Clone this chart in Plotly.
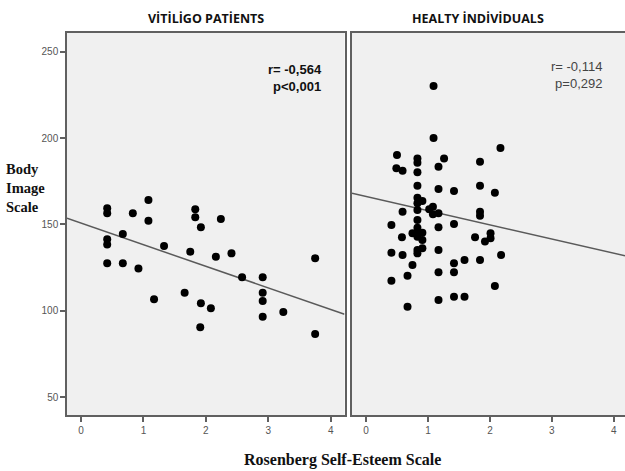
import numpy as np
import plotly.graph_objects as go

# Vitiligo patients (Rosenberg score, Body image score)
vit_x = [0.42, 0.42, 1.08, 0.83, 1.08, 1.83, 1.83, 2.24, 1.92, 0.67, 0.42, 0.42, 1.33, 1.75,
         2.16, 2.41, 0.42, 0.67, 0.92, 3.75, 2.58, 2.91, 2.91, 2.91, 1.66, 1.17, 1.92, 2.08,
         3.24, 2.91, 1.91, 3.75]
vit_y = [159.3, 156.4, 164.1, 156.4, 152.1, 158.7, 154.1, 153.1, 148.3, 144.4, 141.3, 138.4,
         137.5, 134.2, 131.3, 133.2, 127.4, 127.4, 124.5, 130.3, 119.3, 119.3, 110.4, 105.6,
         110.4, 106.6, 104.3, 101.4, 99.2, 96.5, 90.4, 86.5]

# Healthy individuals
hea_x = [1.09, 1.09, 2.17, 0.50, 0.83, 0.83, 1.26, 1.84, 0.49, 0.59, 0.83, 1.17, 0.83, 1.17,
         1.42, 1.84, 2.08, 0.83, 0.91, 0.83, 1.08, 1.02, 0.83, 0.59, 1.17, 1.08, 1.84, 1.84,
         0.83, 0.41, 1.42, 1.17, 0.83, 0.75, 0.83, 0.91, 0.83, 0.58, 0.91, 1.76, 2.01, 2.01,
         1.92, 0.91, 0.83, 0.83, 0.41, 0.59, 1.17, 2.18, 0.75, 1.59, 1.42, 1.84, 0.67, 1.17,
         1.42, 0.41, 2.08, 1.17, 1.42, 1.59, 0.67]
hea_y = [230.1, 200.0, 194.2, 190.2, 188.2, 185.7, 188.2, 186.3, 182.5, 181.1, 180.1, 183.4,
         172.4, 170.5, 169.3, 172.4, 168.3, 165.4, 163.5, 162.2, 160.2, 158.7, 158.3, 157.3,
         156.4, 155.8, 157.3, 155.0, 152.5, 149.6, 150.2, 148.3, 148.1, 144.8, 144.8, 145.2,
         142.8, 142.5, 140.9, 142.5, 144.8, 141.9, 140.0, 136.1, 135.1, 133.2, 133.6, 132.2,
         135.1, 132.2, 126.4, 129.3, 127.4, 129.3, 120.3, 122.2, 122.2, 117.4, 114.3, 106.2,
         108.1, 108.1, 102.3]

# Fit lines (intercept, slope)
vit_fit = [150.7, -12.5]
hea_fit = [166.1, -8.2]

x_ticks = [0, 1, 2, 3, 4]
y_ticks = [50, 100, 150, 200, 250]
x_range_left = [-0.224, 4.22]
x_range_right = [-0.226, 4.18]
y_range = [39.6, 260.8]

titles = ["VİTİLİGO PATİENTS", "HEALTY İNDİVİDUALS"]

fig = go.Figure()


def fit_line(fit, xr):
    xs = np.array(xr)
    return xs, fit[0] + fit[1] * xs


lx, ly = fit_line(vit_fit, x_range_left)
rx, ry = fit_line(hea_fit, x_range_right)

fig.add_trace(go.Scatter(x=lx, y=ly, mode="lines", line=dict(color="#5a5a5a", width=1.5),
                         xaxis="x", yaxis="y", showlegend=False, hoverinfo="skip"))
fig.add_trace(go.Scatter(x=vit_x, y=vit_y, mode="markers",
                         marker=dict(color="black", size=8), xaxis="x", yaxis="y", showlegend=False))
fig.add_trace(go.Scatter(x=rx, y=ry, mode="lines", line=dict(color="#5a5a5a", width=1.5),
                         xaxis="x2", yaxis="y2", showlegend=False, hoverinfo="skip"))
fig.add_trace(go.Scatter(x=hea_x, y=hea_y, mode="markers",
                         marker=dict(color="black", size=8), xaxis="x2", yaxis="y2", showlegend=False))

tickfont = dict(family="Arial, Liberation Sans", size=10, color="#555555")
axis_common = dict(showgrid=False, zeroline=False, ticks="outside", ticklen=5, tickwidth=1.5,
                   tickcolor="#606060", linecolor="#606060", linewidth=1.5, showline=True,
                   tickfont=tickfont)

fig.update_layout(
    width=625, height=471,
    margin=dict(l=0, r=0, t=0, b=0),
    paper_bgcolor="white",
    plot_bgcolor="#f0f0f0",
    xaxis=dict(domain=[67 / 625, 344.5 / 625], range=x_range_left, tickvals=x_ticks,
               mirror=True, anchor="y", **axis_common),
    yaxis=dict(domain=[1 - 415 / 471, 1 - 33 / 471], range=y_range, tickvals=y_ticks,
               mirror=True, anchor="x", **axis_common),
    xaxis2=dict(domain=[352 / 625, 1.0], range=x_range_right, tickvals=x_ticks,
                mirror=True, anchor="y2", **axis_common),
    yaxis2=dict(domain=[1 - 415 / 471, 1 - 33 / 471], range=y_range, tickvals=y_ticks,
                showticklabels=False, ticks="", anchor="x2", showgrid=False, zeroline=False,
                showline=True, linecolor="#606060", linewidth=1.5),
)

ann = []
ann.append(dict(text="<b>" + titles[0] + "</b>", x=206 / 625, y=1 - 19 / 471, xref="paper", yref="paper",
                xanchor="center", yanchor="middle", showarrow=False,
                font=dict(family="Open Sans", size=12.5, color="#111111")))
ann.append(dict(text="<b>" + titles[1] + "</b>", x=478 / 625, y=1 - 19 / 471, xref="paper", yref="paper",
                xanchor="center", yanchor="middle", showarrow=False,
                font=dict(family="Open Sans", size=12.5, color="#111111")))
ann.append(dict(text="<b>r= -0,564</b><br><b>p<0,001</b>", x=324 / 625, y=1 - 78 / 471,
                xref="paper", yref="paper", xanchor="right", yanchor="middle", align="right",
                showarrow=False, font=dict(family="Arial, Liberation Sans", size=13, color="#111111")))
ann.append(dict(text="r= -0,114<br>p=0,292", x=604 / 625, y=1 - 75 / 471,
                xref="paper", yref="paper", xanchor="right", yanchor="middle", align="right",
                showarrow=False, font=dict(family="Arial, Liberation Sans", size=13, color="#444444")))
ann.append(dict(text="<b>Body<br>Image<br>Scale</b>", x=4 / 625, y=1 - 188 / 471,
                xref="paper", yref="paper", xanchor="left", yanchor="middle", align="left",
                showarrow=False,
                font=dict(family="Liberation Serif, Times New Roman", size=14.5, color="#111111")))
ann.append(dict(text="<b>Rosenberg Self-Esteem Scale</b>", x=342 / 625, y=1 - 460 / 471,
                xref="paper", yref="paper", xanchor="center", yanchor="middle", showarrow=False,
                borderpad=0,
                font=dict(family="Liberation Serif, Times New Roman", size=16, color="#111111")))
fig.update_layout(annotations=ann)

fig.write_html("out.html", config={"displayModeBar": False},
               post_script="document.body.style.margin='0';")
